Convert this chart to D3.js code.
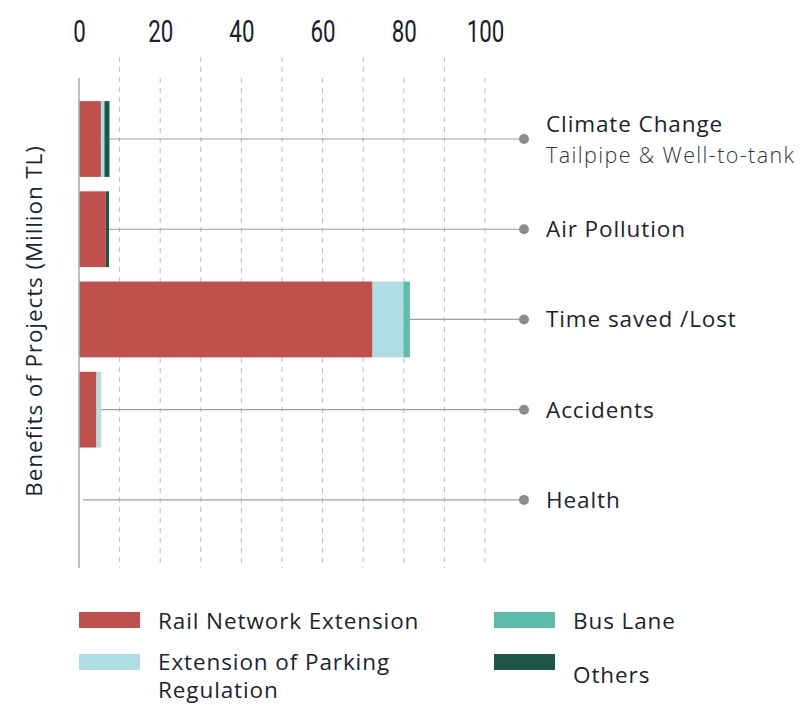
<!DOCTYPE html>
<html>
<head>
<meta charset="utf-8">
<script src="https://cdn.jsdelivr.net/npm/d3@7"></script>
<style>
  html, body { margin: 0; padding: 0; background: #ffffff; }
  svg { display: block; }
</style>
</head>
<body>
<svg id="chart" width="808" height="705"></svg>
<script>
// Benefit categories (top to bottom)
const categories = ["Climate Change", "Air Pollution", "Time saved /Lost", "Accidents", "Health"];
const subLabels = ["Tailpipe & Well-to-tank", "", "", "", ""];

// Project series (Million TL)
const seriesNames = ["Rail Network Extension", "Extension of Parking Regulation", "Bus Lane", "Others"];
const railValues    = [5.4, 6.6, 72.3, 4.3, 0];
const parkingValues = [0.7, 0.0, 7.6, 1.2, 0];
const busValues     = [0.2, 0.0, 1.6, 0.0, 0];
const otherValues   = [1.2, 0.8, 0.0, 0.0, 0];

const tickValues = [0, 20, 40, 60, 80, 100];
const gridValues = [10, 20, 30, 40, 50, 60, 70, 80, 90, 100];

const colors = ["#c0504d", "#b0dde4", "#5dbdab", "#1f5449"];

const rows = categories.map((c, i) => ({
  category: c,
  "Rail Network Extension": railValues[i],
  "Extension of Parking Regulation": parkingValues[i],
  "Bus Lane": busValues[i],
  "Others": otherValues[i]
}));

const svg = d3.select("#chart");

const x = d3.scaleLinear().domain([0, 100]).range([79, 485]);
const y = d3.scaleBand().domain(categories).range([93.9, 545])
  .paddingInner(0.16).paddingOuter(0.08);
const color = d3.scaleOrdinal().domain(seriesNames).range(colors);

// Dashed vertical gridlines (every 10); multiples of 20 start below the tick labels
svg.append("g").selectAll("line").data(gridValues).join("line")
  .attr("x1", d => x(d)).attr("x2", d => x(d))
  .attr("y1", d => d % 20 === 0 ? 78 : 57)
  .attr("y2", 568)
  .attr("stroke", "#b4bcc1")
  .attr("stroke-width", 1)
  .attr("stroke-dasharray", "5,5");

// Top axis with condensed tick labels only
const axisTop = d3.axisTop(x).tickValues(tickValues).tickSize(0).tickPadding(0);
const gAxis = svg.append("g").attr("transform", "translate(0,42)").call(axisTop);
gAxis.select(".domain").remove();
gAxis.selectAll("text")
  .attr("font-family", "Roboto, sans-serif")
  .attr("font-weight", 400)
  .attr("font-size", 31)
  .attr("fill", "#17222b")
  .attr("dy", 0)
  .attr("transform", "scale(0.72,1)");

// Leader lines from each bar to the category label
svg.append("g").selectAll("line").data(categories).join("line")
  .attr("x1", x(0) + 4)
  .attr("x2", 524)
  .attr("y1", d => y(d) + y.bandwidth() / 2)
  .attr("y2", d => y(d) + y.bandwidth() / 2)
  .attr("stroke", "#9aa1a5")
  .attr("stroke-width", 1.2);

// Stacked bars
const stack = d3.stack().keys(seriesNames);
const stacked = stack(rows);
svg.append("g").selectAll("g").data(stacked).join("g")
  .attr("fill", d => color(d.key))
  .selectAll("rect").data(d => d).join("rect")
  .attr("x", d => x(d[0]))
  .attr("y", d => y(d.data.category))
  .attr("width", d => Math.max(0, x(d[1]) - x(d[0])))
  .attr("height", y.bandwidth());

// Left axis line
svg.append("line")
  .attr("x1", x(0)).attr("x2", x(0))
  .attr("y1", 78).attr("y2", 568)
  .attr("stroke", "#a9afb3")
  .attr("stroke-width", 1.6);

// End dots
svg.append("g").selectAll("circle").data(categories).join("circle")
  .attr("cx", 524)
  .attr("cy", d => y(d) + y.bandwidth() / 2)
  .attr("r", 5)
  .attr("fill", "#8a8d8f");

// Category labels (with an optional lighter second line)
const labelFont = "'Open Sans', Lato, sans-serif";
const catText = svg.append("g").selectAll("text").data(categories).join("text")
  .attr("font-family", labelFont)
  .attr("font-size", 22.5)
  .attr("fill", "#1b252d");
catText.append("tspan")
  .attr("x", 546)
  .attr("y", (d, i) => y(d) + y.bandwidth() / 2 + (subLabels[i] ? -7 : 8))
  .attr("letter-spacing", 0.9)
  .text(d => d);
catText.filter((d, i) => subLabels[i]).append("tspan")
  .attr("x", 546)
  .attr("y", d => y(d) + y.bandwidth() / 2 + 24)
  .attr("font-size", 21.5)
  .attr("font-weight", 300)
  .attr("letter-spacing", 1.4)
  .attr("fill", "#2d383f")
  .text(d => subLabels[categories.indexOf(d)]);

// Y-axis title
svg.append("text")
  .attr("transform", "translate(42,321) rotate(-90)")
  .attr("text-anchor", "middle")
  .attr("font-family", labelFont)
  .attr("font-size", 22.5)
  .attr("letter-spacing", 0.9)
  .attr("fill", "#1b252d")
  .text("Benefits of Projects (Million TL)");

// Legend
const legendItems = [
  { key: "Rail Network Extension", lines: ["Rail Network Extension"], sx: 79, sy: 612, tx: 158, ty: 629 },
  { key: "Extension of Parking Regulation", lines: ["Extension of Parking", "Regulation"], sx: 79, sy: 654, tx: 158, ty: 670 },
  { key: "Bus Lane", lines: ["Bus Lane"], sx: 494, sy: 612, tx: 573, ty: 629 },
  { key: "Others", lines: ["Others"], sx: 494, sy: 654, tx: 573, ty: 683 }
];
const lg = svg.append("g").selectAll("g").data(legendItems).join("g");
lg.append("rect")
  .attr("x", d => d.sx).attr("y", d => d.sy)
  .attr("width", 61).attr("height", 16)
  .attr("fill", d => color(d.key));
lg.append("text")
  .attr("font-family", labelFont)
  .attr("font-size", 22.5)
  .attr("letter-spacing", 0.9)
  .attr("fill", "#1b252d")
  .selectAll("tspan").data(d => d.lines.map((t, i) => ({ t, i, d }))).join("tspan")
  .attr("x", e => e.d.tx)
  .attr("y", e => e.d.ty + e.i * 28)
  .text(e => e.t);
</script>
</body>
</html>
